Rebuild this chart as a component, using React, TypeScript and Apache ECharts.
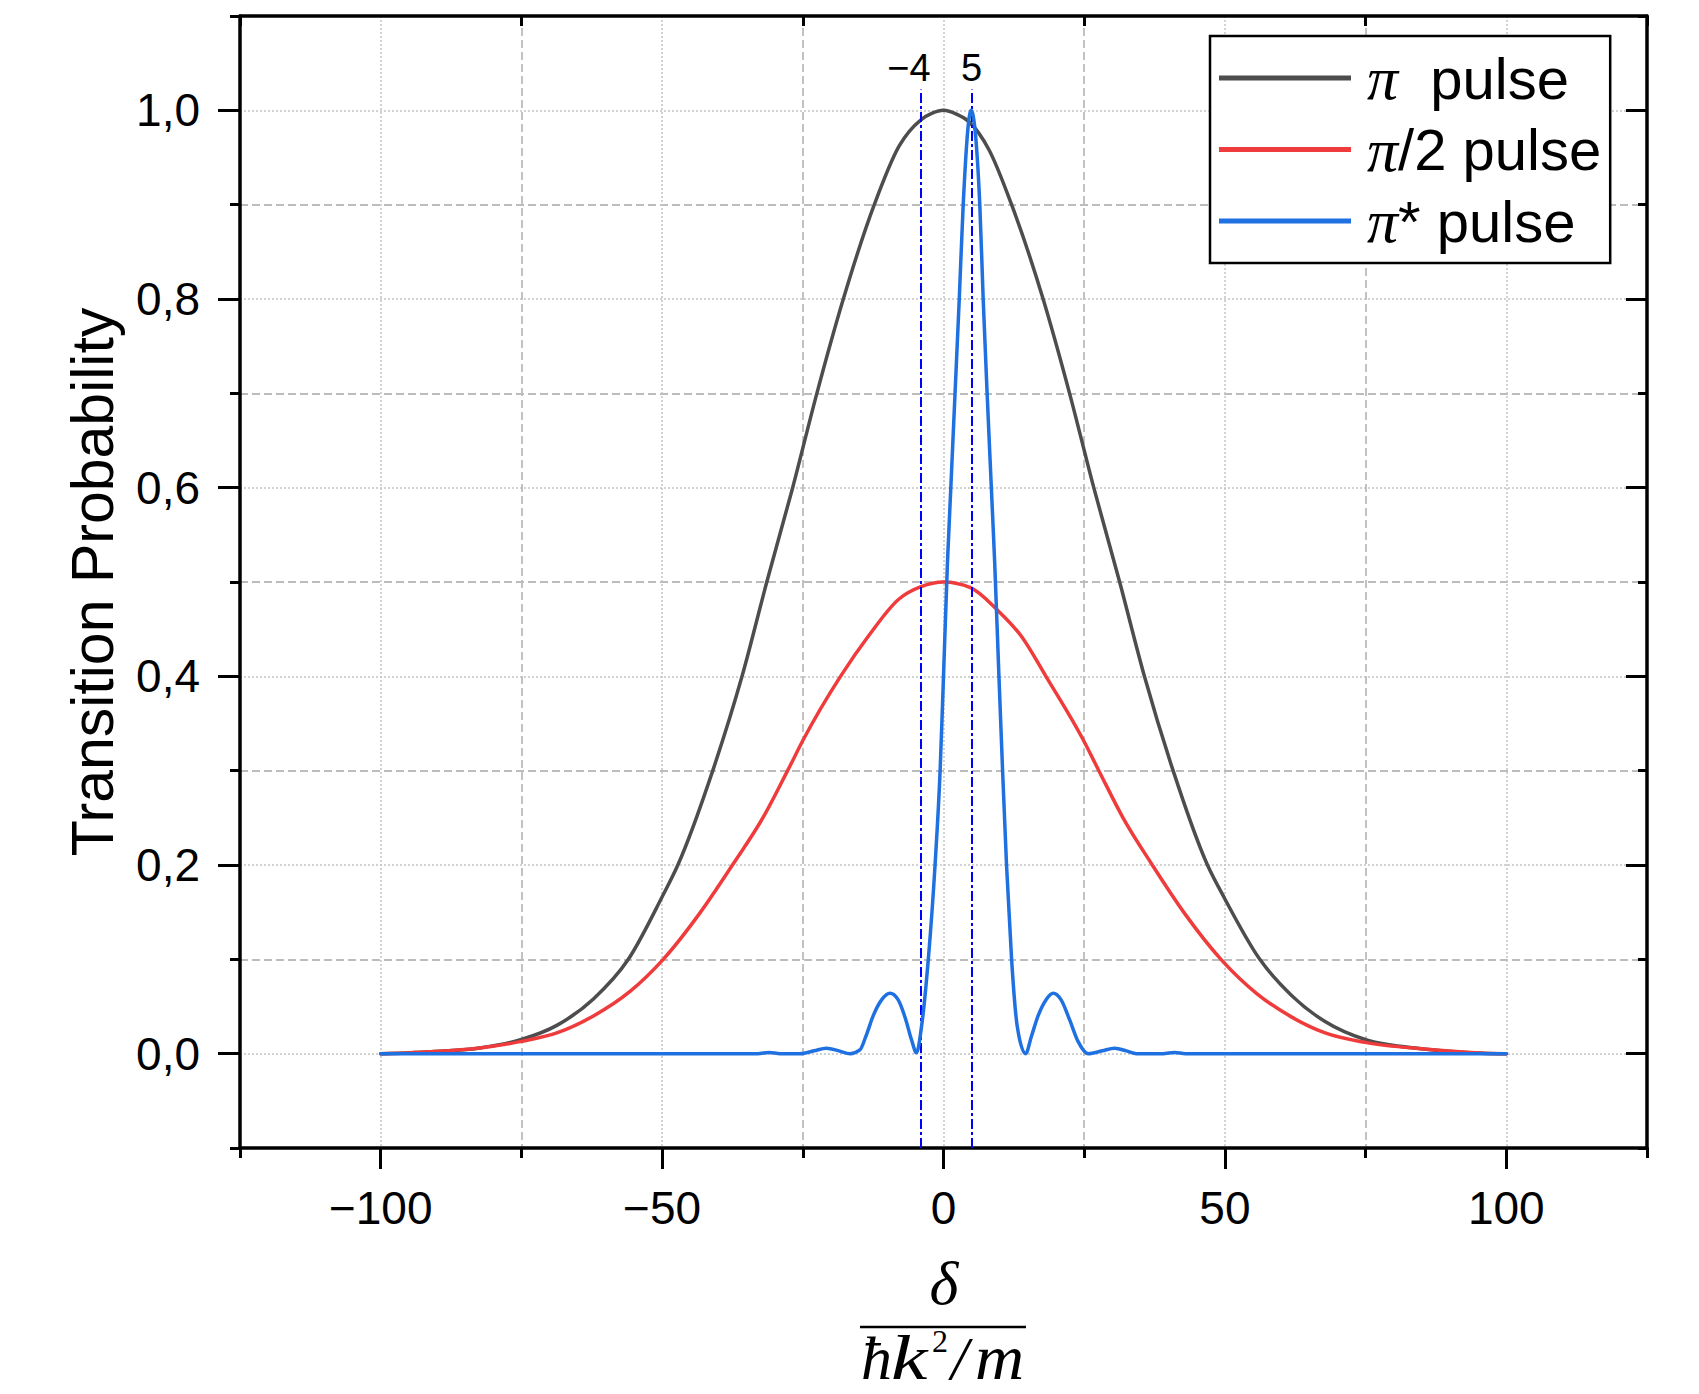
import React, { useEffect, useRef } from 'react';
import * as echarts from 'echarts';

// ---- data ----
const piPulse: [number, number][] = [
  [-100, 0], [-91.2, 0.002], [-82.4, 0.006], [-75, 0.015], [-68.7, 0.03], [-62.2, 0.058],
  [-56, 0.1], [-50.1, 0.165], [-47.2, 0.2], [-41, 0.3], [-35.8, 0.4], [-31.4, 0.5],
  [-26.8, 0.6], [-22.5, 0.7], [-17.8, 0.8], [-12.3, 0.9], [-7.9, 0.962], [-4, 0.99],
  [-2, 0.997], [0, 1.0], [2.3, 0.996], [4.5, 0.988], [8.1, 0.958], [12.1, 0.9], [17.7, 0.8],
  [22.4, 0.7], [26.7, 0.6], [31.3, 0.5], [35.7, 0.4], [40.8, 0.3], [46.9, 0.2], [50, 0.164],
  [56.2, 0.1], [61.8, 0.062], [67.8, 0.034], [74.9, 0.015], [85.3, 0.005], [100, 0],
];

const piHalfPulse: [number, number][] = [
  [-100, 0], [-91.2, 0.002], [-82.4, 0.006], [-75, 0.013], [-68.7, 0.022], [-62.2, 0.04],
  [-55.7, 0.066], [-49.8, 0.1], [-43.3, 0.149], [-37.5, 0.2], [-31.9, 0.252], [-27.7, 0.3],
  [-24.9, 0.333], [-18.3, 0.4], [-13.3, 0.443], [-7.9, 0.482], [-4, 0.495], [0, 0.5],
  [4.8, 0.494], [9.45, 0.471], [13.9, 0.442], [18.2, 0.4], [24.8, 0.333], [27.6, 0.3],
  [31.9, 0.25], [37.1, 0.2], [42.8, 0.149], [49.3, 0.1], [55.6, 0.064], [61.8, 0.039],
  [67.8, 0.022], [74.9, 0.012], [85.3, 0.005], [100, 0],
];

const piStarPulse: [number, number][] = [
  [-100, 0], [-33, 0], [-31, 0.0012], [-29, 0], [-25.5, 0], [-23, 0.003], [-20.8, 0.0057],
  [-18.6, 0.003], [-16.6, 0], [-14.85, 0.004], [-13.7, 0.02], [-12.5, 0.04], [-11, 0.057],
  [-9.5, 0.064], [-8.05, 0.057], [-6.7, 0.036], [-5.7, 0.015], [-4.8, 0.001],
  [-3.9, 0.029], [-2.7, 0.1], [-1.5, 0.2], [-0.6, 0.3], [0, 0.4], [0.7, 0.52], [1.3, 0.6],
  [2.05, 0.7], [2.8, 0.8], [3.5, 0.9], [4.9, 1.0], [6.45, 0.9], [7.05, 0.8], [7.75, 0.7],
  [8.5, 0.6], [9.1, 0.52], [9.85, 0.4], [10.5, 0.3], [11.2, 0.2], [12.1, 0.1], [13.1, 0.029],
  [14.6, 0], [15.6, 0.018], [16.8, 0.04], [18.2, 0.057], [19.5, 0.064], [20.9, 0.057],
  [22.4, 0.036], [23.9, 0.013], [25.7, 0], [28.2, 0.003], [30.4, 0.0057], [32.5, 0.003],
  [34.3, 0], [39, 0], [41, 0.0012], [43, 0], [100, 0],
];

const seriesNames = ['π pulse', 'π/2 pulse', 'π* pulse'];
const legendSuffix = ['  pulse', '/2 pulse', '* pulse'];
const seriesColors = ['#4d4d4d', '#ef3b3b', '#1f70e0'];

const xMajorTicks = [-100, -50, 0, 50, 100];
const xMinorTicks = [-125, -75, -25, 25, 75, 125];
const yMajorTicks = [0, 0.2, 0.4, 0.6, 0.8, 1.0];
const yMinorTicks = [-0.1, 0.1, 0.3, 0.5, 0.7, 0.9, 1.1];

const markerX = [-4, 5];
const markerLabels = ['−4', '5'];

const FONT = '"Liberation Sans", Arial, sans-serif';
const SERIF = '"Liberation Serif", "Times New Roman", serif';

// smooth monotone cubic path through pixel points (x increasing)
function monotonePath(px: number[][]): string {
  const n = px.length;
  const xs = px.map((p) => p[0]);
  const ys = px.map((p) => p[1]);
  const h: number[] = [];
  const s: number[] = [];
  for (let i = 0; i < n - 1; i++) {
    h[i] = xs[i + 1] - xs[i];
    s[i] = h[i] ? (ys[i + 1] - ys[i]) / h[i] : 0;
  }
  const m = new Array(n).fill(0);
  for (let i = 1; i < n - 1; i++) {
    const s0 = s[i - 1], s1 = s[i], h0 = h[i - 1], h1 = h[i];
    const p = (s0 * h1 + s1 * h0) / (h0 + h1);
    m[i] = (Math.sign(s0) + Math.sign(s1)) * Math.min(Math.abs(s0), Math.abs(s1), 0.5 * Math.abs(p)) || 0;
  }
  let d = `M${xs[0].toFixed(2)},${ys[0].toFixed(2)}`;
  for (let i = 0; i < n - 1; i++) {
    const dx = h[i] / 3;
    d += ` C${(xs[i] + dx).toFixed(2)},${(ys[i] + m[i] * dx).toFixed(2)} ${(xs[i + 1] - dx).toFixed(2)},${(ys[i + 1] - m[i + 1] * dx).toFixed(2)} ${xs[i + 1].toFixed(2)},${ys[i + 1].toFixed(2)}`;
  }
  return d;
}

function curveSeries(name: string, pts: [number, number][], color: string, z: number, extra: any = {}) {
  return {
    name, type: 'custom', coordinateSystem: 'cartesian2d', xAxisIndex: 0, yAxisIndex: 0,
    data: pts, encode: { x: 0, y: 1 }, z, color, itemStyle: { color },
    renderItem: (params: any, api: any) => {
      if (params.dataIndex !== 0) return { type: 'group', children: [] };
      const px = pts.map((p) => api.coord(p));
      return {
        type: 'path', silent: true,
        shape: { pathData: monotonePath(px) },
        style: { fill: 'none', stroke: color, lineWidth: 3.5, lineJoin: 'round', lineCap: 'round' },
      };
    },
    ...extra,
  };
}

export default function App() {
  const ref = useRef<HTMLDivElement>(null);

  useEffect(() => {
    if (!ref.current) return;
    const chart = echarts.init(ref.current, undefined, { renderer: 'svg' });

    const dotted = { color: '#c4c4c4', width: 1.5, type: [2, 2] };
    const dashed = { color: '#bcbcbc', width: 1.8, type: [8, 4] };
    const axisLineStyle = { color: '#000', width: 3.5 };
    const tickStyle = { color: '#000', width: 3 };

    const xBase = { type: 'value', min: -125, max: 125, interval: 25 };
    const yBase = { type: 'value', min: -0.1, max: 1.1, interval: 0.1 };

    const mathText = (text: string, x: number, y: number, size: number, italic = true, scaleX = 1) => ({
      type: 'text', x, y, z: 10, scaleX,
      style: {
        text, align: 'left', verticalAlign: 'middle', fontFamily: SERIF,
        fontStyle: italic ? 'italic' : 'normal', fontSize: size, lineHeight: Math.round(size * 0.75), fill: '#000',
      },
    });

    const option: any = {
      animation: false,
      backgroundColor: '#fff',
      grid: { left: 240, right: 52, top: 16, bottom: 246, containLabel: false, outerBoundsMode: 'none' },
      xAxis: [
        {
          ...xBase, position: 'bottom',
          axisLine: { show: true, onZero: false, lineStyle: axisLineStyle },
          axisTick: { show: true, inside: false, length: 21, customValues: xMajorTicks, lineStyle: tickStyle },
          axisLabel: {
            show: true, customValues: xMajorTicks, margin: 37, fontSize: 46, fontFamily: FONT, color: '#000',
            formatter: (v: number) => (v < 0 ? '−' + Math.abs(v) : String(v)),
          },
          splitLine: { show: true, lineStyle: dotted },
        },
        {
          ...xBase, position: 'bottom',
          axisLine: { show: false, onZero: false },
          axisTick: { show: true, inside: false, length: 10, customValues: xMinorTicks, lineStyle: tickStyle },
          axisLabel: { show: false },
          splitLine: { show: true, lineStyle: dashed },
        },
        {
          ...xBase, position: 'top',
          axisLine: { show: true, onZero: false, lineStyle: axisLineStyle },
          axisTick: { show: true, inside: true, length: 10, customValues: xMinorTicks, lineStyle: tickStyle },
          axisLabel: { show: false },
          splitLine: { show: false },
        },
      ],
      yAxis: [
        {
          ...yBase, position: 'left',
          name: 'Transition Probability', nameLocation: 'middle', nameGap: 118,
          nameTextStyle: { fontSize: 59, fontFamily: FONT, color: '#000' },
          axisLine: { show: true, onZero: false, lineStyle: axisLineStyle },
          axisTick: { show: true, inside: false, length: 22, customValues: yMajorTicks, lineStyle: tickStyle },
          axisLabel: {
            show: true, customValues: yMajorTicks, margin: 40, fontSize: 46, fontFamily: FONT, color: '#000',
            formatter: (v: number) => v.toFixed(1).replace('.', ','),
          },
          splitLine: { show: true, lineStyle: dotted },
        },
        {
          ...yBase, position: 'left',
          axisLine: { show: false, onZero: false },
          axisTick: { show: true, inside: false, length: 10, customValues: yMinorTicks, lineStyle: tickStyle },
          axisLabel: { show: false },
          splitLine: { show: true, lineStyle: dashed },
        },
        {
          ...yBase, position: 'right',
          axisLine: { show: true, onZero: false, lineStyle: axisLineStyle },
          axisTick: { show: true, inside: true, length: 21, customValues: yMajorTicks, lineStyle: tickStyle },
          axisLabel: { show: false },
          splitLine: { show: false },
        },
        {
          ...yBase, position: 'right',
          axisLine: { show: false, onZero: false },
          axisTick: { show: true, inside: true, length: 9, customValues: yMinorTicks, lineStyle: tickStyle },
          axisLabel: { show: false },
          splitLine: { show: false },
        },
      ],
      legend: {
        show: true, orient: 'vertical', left: 1210, top: 36,
        padding: [11, 9, 11, 9], itemGap: 9.5, itemWidth: 132, itemHeight: 5,
        icon: 'rect', borderColor: '#000', borderWidth: 2.5, backgroundColor: '#fff', borderRadius: 0,
        data: seriesNames.map((n, i) => ({ name: n, itemStyle: { color: seriesColors[i] } })),
        formatter: (name: string) => `{pi|π}{t|${legendSuffix[seriesNames.indexOf(name)]}}`,
        textStyle: {
          color: '#000', fontSize: 58, fontFamily: FONT, lineHeight: 60,
          rich: {
            pi: { fontFamily: SERIF, fontStyle: 'italic', fontSize: 62, lineHeight: 60, padding: [0, 0, 0, 11], color: '#000' },
            t: { fontFamily: FONT, fontSize: 58, lineHeight: 60, color: '#000' },
          },
        },
      },
      series: [
        curveSeries(seriesNames[0], piPulse, seriesColors[0], 3),
        curveSeries(seriesNames[1], piHalfPulse, seriesColors[1], 4),
        curveSeries(seriesNames[2], piStarPulse, seriesColors[2], 5, {
          markLine: {
            silent: true, symbol: 'none', animation: false,
            lineStyle: { color: '#0000ff', width: 2, type: [10, 3, 3, 3] },
            label: { show: true, position: 'end', formatter: '{b}', fontSize: 38, fontFamily: FONT, color: '#000', distance: 3 },
            data: markerX.map((x, i) => [
              { name: markerLabels[i], coord: [x, -0.1], label: { offset: [i === 0 ? -12 : 0, 0] } },
              { coord: [x, 1.022] },
            ]),
          },
        }),
      ],
      graphic: [
        {
          type: 'text', x: 944, y: 1283, z: 10,
          style: { text: 'δ', align: 'center', verticalAlign: 'middle', fontFamily: SERIF, fontStyle: 'italic', fontSize: 62, lineHeight: 48, fill: '#000' },
        },
        {
          type: 'line', z: 10,
          shape: { x1: 860, y1: 1327, x2: 1026, y2: 1327 },
          style: { stroke: '#000', lineWidth: 2.5 },
        },
        mathText('ħ', 861, 1358, 62),
        mathText('k', 891, 1358, 63, true, 1.3),
        mathText('2', 932, 1341, 32, false),
        mathText('/', 951, 1358, 62),
        mathText('m', 975, 1358, 63, true, 1.08),
      ],
    };

    chart.setOption(option);
    return () => chart.dispose();
  }, []);

  return (
    <div
      ref={ref}
      style={{ position: 'absolute', left: 0, top: 0, width: 1699, height: 1394, background: '#fff' }}
    />
  );
}
